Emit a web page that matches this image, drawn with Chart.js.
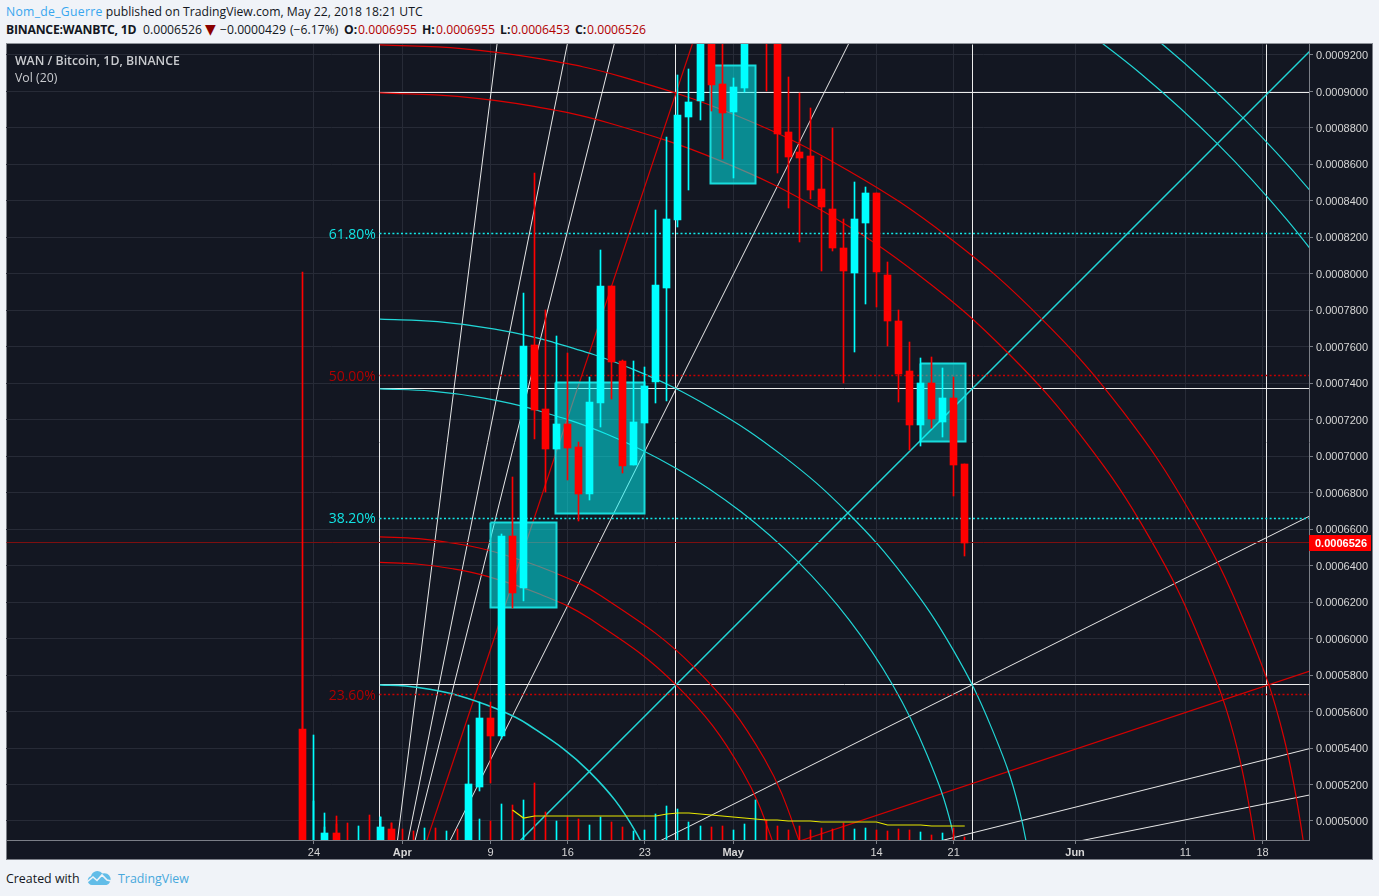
<!DOCTYPE html>
<html>
<head>
<meta charset="utf-8">
<title>WAN / Bitcoin, 1D, BINANCE</title>
<script src="https://cdn.jsdelivr.net/npm/chart.js@4/dist/chart.umd.min.js"></script>
<style>
  html, body { margin: 0; padding: 0; background: #f0f3f8; width: 1379px; height: 896px; overflow: hidden; }
  body { font: 12.2px "Open Sans", sans-serif; color: #131722; }
  .line { position: absolute; left: 6px; white-space: pre; }
  #line1 { top: 3px; }
  #line2 { top: 21px; }
  #line2 span, #line2 b { position: absolute; top: 0; }
  .user { color: #37a6ef; letter-spacing: 0.3px; }
  .val { color: #b00000; }
  .down { color: #8b0000; font-family: "DejaVu Sans", sans-serif; font-size: 14px; line-height: 17px; }
  #panel { position: absolute; left: 6px; top: 43px; width: 1365px; height: 815px; background: #131722; border: 1px solid #7b7f87; border-top-color: #8f939a; }
  #chart { position: absolute; left: -1px; top: 0; }
  .legend { position: absolute; left: 15px; color: #c9cbcf; white-space: pre; font-size: 12.3px; }
  #footer { position: absolute; left: 6px; top: 870px; white-space: pre; font-size: 12.4px; }
  #footer svg { position: absolute; left: 81px; top: 0; }
  #footer a { position: absolute; left: 112px; top: 0; color: #47a8dc; }
</style>
</head>
<body>
<div class="line" id="line1"><span class="user">Nom_de_Guerre</span> published on TradingView.com, May 22, 2018 18:21 UTC</div>
<div class="line" id="line2"><b style="left:0;letter-spacing:-0.22px">BINANCE:WANBTC, 1D</b><span style="left:137px">0.0006526</span><span class="down" style="left:199px">▼</span><span style="left:214px">−0.0000429</span><span style="left:284px">(−6.17%)</span><b style="left:338px">O:</b><span class="val" style="left:352px">0.0006955</span><b style="left:416px">H:</b><span class="val" style="left:430px">0.0006955</span><b style="left:494px">L:</b><span class="val" style="left:505px">0.0006453</span><b style="left:569px">C:</b><span class="val" style="left:581px">0.0006526</span></div>
<div id="panel"><canvas id="chart" width="1366" height="816"></canvas></div>
<div class="legend" style="top:52px;font-weight:600">WAN / Bitcoin, 1D, BINANCE</div>
<div class="legend" style="top:69px">Vol (20)</div>
<div id="footer">Created with<svg width="25" height="16" viewBox="0 0 25 16"><path d="M5 15a4.5 4.5 0 0 1-1-8.8A6.5 6.5 0 0 1 15.5 3.5 5.5 5.5 0 0 1 19.5 15z" fill="#62bde8"/><path d="M0 12l6-5 4 3.5L15 5l5 5 4 1" fill="none" stroke="#f0f3f8" stroke-width="1.6"/></svg><a>TradingView</a></div>

<script>
// ===== DATA: DAILY CANDLES (day 0 = 24 Mar 2018) =====
const candleDays = [-1, 0, 1, 2, 3, 4, 5, 6, 7, 8, 9, 10, 11, 12, 13, 14, 15, 16, 17, 18, 19, 20, 21, 22, 23, 24, 25, 26, 27, 28, 29, 30, 31, 32, 33, 34, 35, 36, 37, 38, 39, 40, 41, 42, 43, 44, 45, 46, 47, 48, 49, 50, 51, 52, 53, 54, 55, 56, 57, 58, 59];
const opens = [0.0005504, 0.0004600, 0.0004800, 0.0004934, 0.0004850, 0.0004830, 0.0004860, 0.0004820, 0.0004956, 0.0004850, 0.0004830, 0.0004810, 0.0004840, 0.0004800, 0.0004830, 0.0004860, 0.0005186, 0.0005565, 0.0005466, 0.0006563, 0.0006278, 0.0007610, 0.0007259, 0.0007040, 0.0007177, 0.0007051, 0.0006793, 0.0007292, 0.0007933, 0.0007522, 0.0006952, 0.0007182, 0.0007407, 0.0007922, 0.0008295, 0.0008860, 0.0008948, 0.0009500, 0.0009041, 0.0008887, 0.0009019, 0.0009450, 0.0009700, 0.0009400, 0.0008778, 0.0008668, 0.0008646, 0.0008465, 0.0008356, 0.0008142, 0.0008005, 0.0008279, 0.0008443, 0.0007994, 0.0007742, 0.0007467, 0.0007171, 0.0007402, 0.0007188, 0.0007319, 0.0006955];
const highs = [0.0008010, 0.0005472, 0.0005044, 0.0005027, 0.0004860, 0.0004870, 0.0004880, 0.0005022, 0.0004989, 0.0004880, 0.0004870, 0.0004860, 0.0004870, 0.0004850, 0.0004880, 0.0005526, 0.0005652, 0.0005652, 0.0006574, 0.0006886, 0.0007895, 0.0008553, 0.0007802, 0.0007659, 0.0007566, 0.0007078, 0.0007434, 0.0008131, 0.0007933, 0.0007528, 0.0007522, 0.0007489, 0.0008350, 0.0008750, 0.0009090, 0.0009123, 0.0009700, 0.0009800, 0.0009400, 0.0009074, 0.0009600, 0.0009900, 0.0010000, 0.0009500, 0.0009079, 0.0008992, 0.0008909, 0.0008641, 0.0008800, 0.0008301, 0.0008504, 0.0008476, 0.0008443, 0.0008065, 0.0007802, 0.0007626, 0.0007539, 0.0007544, 0.0007484, 0.0007434, 0.0006955];
const lows = [0.0004500, 0.0004500, 0.0004700, 0.0004700, 0.0004750, 0.0004790, 0.0004790, 0.0004800, 0.0004800, 0.0004790, 0.0004780, 0.0004770, 0.0004780, 0.0004770, 0.0004790, 0.0004840, 0.0005164, 0.0005208, 0.0005450, 0.0006168, 0.0006206, 0.0007095, 0.0006804, 0.0007040, 0.0006870, 0.0006645, 0.0006760, 0.0007160, 0.0007314, 0.0006908, 0.0006952, 0.0007182, 0.0007292, 0.0007303, 0.0008257, 0.0008460, 0.0008844, 0.0008893, 0.0008630, 0.0008526, 0.0008997, 0.0009300, 0.0009003, 0.0008553, 0.0008361, 0.0008175, 0.0008410, 0.0008016, 0.0008125, 0.0007402, 0.0007572, 0.0007835, 0.0007818, 0.0007604, 0.0007297, 0.0007034, 0.0007056, 0.0007155, 0.0007105, 0.0006782, 0.0006453];
const closes = [0.0004600, 0.0004750, 0.0004934, 0.0004800, 0.0004830, 0.0004860, 0.0004820, 0.0004967, 0.0004850, 0.0004830, 0.0004810, 0.0004840, 0.0004800, 0.0004830, 0.0004820, 0.0005203, 0.0005565, 0.0005466, 0.0006563, 0.0006250, 0.0007604, 0.0007254, 0.0007040, 0.0007177, 0.0007045, 0.0006793, 0.0007297, 0.0007933, 0.0007517, 0.0006946, 0.0007188, 0.0007385, 0.0007939, 0.0008301, 0.0008871, 0.0008942, 0.0009500, 0.0009035, 0.0008882, 0.0009025, 0.0009450, 0.0009800, 0.0009400, 0.0008767, 0.0008641, 0.0008635, 0.0008460, 0.0008367, 0.0008142, 0.0008016, 0.0008301, 0.0008443, 0.0008010, 0.0007742, 0.0007451, 0.0007171, 0.0007402, 0.0007204, 0.0007319, 0.0006952, 0.0006526];

// ===== DATA: VOLUME =====
const volumes = [1000, 195, 65, 80, 85, 70, 125, 115, 85, 55, 45, 60, 60, 45, 55, 200, 105, 95, 180, 175, 200, 285, 140, 95, 115, 105, 75, 115, 90, 65, 45, 50, 130, 170, 155, 90, 70, 65, 70, 50, 80, 200, 100, 70, 50, 70, 50, 60, 55, 85, 55, 60, 50, 45, 55, 50, 40, 25, 35, 60, 15];
const volumeMaDays = [18, 19, 20, 21, 22, 23, 24, 25, 26, 27, 28, 29, 30, 31, 32, 33, 34, 35, 36, 37, 38, 39, 40, 41, 42, 43, 44, 45, 46, 47, 48, 49, 50, 51, 52, 53, 54, 55, 56, 57, 58, 59];
const volumeMa = [150, 110, 120, 120, 120, 120, 120, 120, 120, 120, 120, 120, 120, 120, 130, 135, 135, 130, 125, 120, 115, 110, 105, 100, 100, 95, 95, 95, 90, 90, 90, 90, 90, 90, 75, 75, 75, 75, 70, 70, 70, 70];

// ===== DATA: AXES =====
const xTickDays = [0, 8, 16, 23, 30, 38, 51, 58, 69, 79, 86];
const xTickLabels = ["24", "Apr", "9", "16", "23", "May", "14", "21", "Jun", "11", "18"];
const monthLabels = ["Apr", "May", "Jun"];
const priceTicks = [0.0005, 0.00052, 0.00054, 0.00056, 0.00058, 0.0006, 0.00062, 0.00064, 0.00066, 0.00068, 0.0007, 0.00072, 0.00074, 0.00076, 0.00078, 0.0008, 0.00082, 0.00084, 0.00086, 0.00088, 0.0009, 0.00092];
const lastPrice = 0.0006526;

// ===== DATA: FIBONACCI LEVELS =====
const fibPrices = [0.0008221, 0.0007440, 0.0006659, 0.0005691];
const fibLabels = ["61.80%", "50.00%", "38.20%", "23.60%"];

// ===== DATA: GANN SQUARE =====
const gannDays = [5.98, 32.82, 59.66, 86.4];
const gannPrices = [0.0008992, 0.0007369, 0.0005746];
const fanOrigin = [5.98, 0.0004123];
const fanWhiteEnds = [[16.6, 0.000926], [22.97, 0.000926], [27.22, 0.000926], [48.46, 0.000926], [90.21, 0.000667], [90.21, 0.0005396], [90.21, 0.0005142]];
const fanRedEnds = [[34.3, 0.000926], [90.21, 0.0005821]];
const fanCyanEnd = [90.93, 0.000926];

const arcCyan1 = [[5.98, 0.0005746], [8.32, 0.000574], [10.64, 0.0005721], [12.93, 0.0005691], [16.25, 0.0005622], [19.4, 0.0005529], [24.96, 0.0005271], [29.22, 0.0004935], [31.9, 0.0004543]];
const arcCyan2 = [[5.98, 0.0007369], [10.66, 0.0007357], [15.3, 0.000732], [19.87, 0.0007258], [26.52, 0.0007122], [32.82, 0.0006934], [38.66, 0.0006698], [43.94, 0.0006418], [48.57, 0.0006099], [52.47, 0.0005746], [55.57, 0.0005365], [57.83, 0.0004963], [59.46, 0.0004406]];
const arcCyan3 = [[5.98, 0.0007752], [11.21, 0.0007738], [16.4, 0.0007697], [21.51, 0.0007628], [28.95, 0.0007476], [35.98, 0.0007266], [42.51, 0.0007002], [48.41, 0.0006689], [53.59, 0.0006332], [57.95, 0.0005938], [61.42, 0.0005512], [63.95, 0.0005062], [65.76, 0.0004439]];
const arcCyan4 = [[67.56, 0.0009441], [74.99, 0.0009096], [81.9, 0.0008714], [88.22, 0.0008296], [93.93, 0.0007847]];
const arcCyan5 = [[69.45, 0.0009605], [77.11, 0.0009249], [84.23, 0.0008855], [90.75, 0.0008425], [96.63, 0.0007962]];
const arcRed1 = [[5.98, 0.0006418], [9.29, 0.0006409], [12.57, 0.0006383], [15.8, 0.000634], [20.51, 0.0006243], [24.96, 0.0006111], [32.82, 0.0005746], [38.85, 0.0005271], [42.65, 0.0004717]];
const arcRed2 = [[5.98, 0.0006558], [9.49, 0.0006548], [12.97, 0.000652], [16.4, 0.0006475], [21.39, 0.0006372], [26.11, 0.0006231], [34.45, 0.0005844], [40.85, 0.000534], [44.87, 0.0004753]];
const arcRed3 = [[5.98, 0.0008992], [13, 0.0008973], [19.96, 0.0008918], [26.82, 0.0008826], [36.79, 0.0008621], [46.24, 0.000834], [55, 0.0007986], [62.92, 0.0007566], [69.86, 0.0007087], [75.71, 0.0006558], [80.37, 0.0005986], [83.76, 0.0005383], [86.19, 0.0004547]];
const arcRed4 = [[5.98, 0.0009255], [13.38, 0.0009235], [20.71, 0.0009177], [27.95, 0.000908], [38.46, 0.0008864], [48.42, 0.0008567], [57.65, 0.0008195], [65.99, 0.0007752], [73.32, 0.0007247], [79.48, 0.0006689], [84.39, 0.0006087], [87.96, 0.0005451], [90.53, 0.000457]];

// ===== DATA: PRICE RANGE BOXES (first day, last day, top, bottom) =====
const rangeBoxes = [
  [15.96, 22.03, 0.0006637, 0.0006171],
  [21.94, 30, 0.0007402, 0.0006684],
  [35.99, 40.07, 0.0009140, 0.0008493],
  [55, 59.1, 0.0007507, 0.0007080]
];

// ===== SETTINGS =====
const RED = "#ff0000";
const CYAN = "#00ffff";
const PRICE_MIN = 0.00048958;
const PRICE_MAX = 0.00092603;
const DAY_MIN = -27.92;
const DAY_MAX = 90.21;
const LABEL_FONT = '11px "Liberation Sans", Arial, sans-serif';

const candleColors = opens.map((o, i) => (closes[i] >= o ? CYAN : RED));

// ===== DATASET HELPERS =====
function toXY(pairs) {
  return pairs.map(p => ({ x: p[0], y: p[1] }));
}

function lineSet(pairs, color, width, order, extra) {
  return Object.assign({
    type: "line",
    data: toXY(pairs),
    borderColor: color,
    borderWidth: width,
    pointRadius: 0,
    tension: 0,
    fill: false,
    order: order
  }, extra || {});
}

function barSet(values, yAxisID, thickness, order) {
  return {
    type: "bar",
    data: candleDays.map((d, i) => ({ x: d, y: values[i] })),
    yAxisID: yAxisID,
    backgroundColor: candleColors,
    barThickness: thickness,
    grouped: false,
    order: order
  };
}

// ===== DATASETS =====
const datasets = [];

// yellow volume average on top of everything
datasets.push({
  type: "line",
  data: volumeMaDays.map((d, i) => ({ x: d, y: volumeMa[i] })),
  yAxisID: "yVol",
  borderColor: "#e8e800",
  borderWidth: 1.2,
  pointRadius: 0,
  tension: 0,
  order: 0
});

// candles, then wicks, then volume
datasets.push(barSet(opens.map((o, i) => [o, closes[i]]), "y", 7, 1));
datasets.push(barSet(lows.map((l, i) => [l, highs[i]]), "y", 1, 2));
datasets.push(barSet(volumes, "yVol", 1, 3));

// teal boxes sit under the candles but over the Gann drawing
rangeBoxes.forEach(b => {
  const corners = [[b[0], b[2]], [b[1], b[2]], [b[1], b[3]], [b[0], b[3]], [b[0], b[2]]];
  datasets.push(lineSet(corners, "#18dcdc", 2, 4, { fill: "shape", backgroundColor: "rgba(0,255,255,0.5)", snap: true }));
});

// fib dotted levels
fibPrices.forEach((p, i) => {
  const color = i % 2 === 0 ? "#12e8e8" : "#c80000";
  datasets.push(lineSet([[gannDays[0], p], [DAY_MAX, p]], color, 1.5, 5, { borderDash: [2, 2.3], snap: true }));
});

// last price line
datasets.push(lineSet([[DAY_MIN, lastPrice], [DAY_MAX, lastPrice]], "#7d0f10", 1, 5, { snap: true }));

// arcs
[arcCyan2, arcCyan3, arcCyan4, arcCyan5].forEach(a => {
  datasets.push(lineSet(a, "#21d6d6", 1.2, 6, { tension: 0.4 }));
});
datasets.push(lineSet(arcCyan1, "#21d6d6", 1.6, 6, { tension: 0.4 }));
[arcRed1, arcRed2, arcRed3, arcRed4].forEach(a => {
  datasets.push(lineSet(a, "#dc0000", 1.2, 6, { tension: 0.4 }));
});

// fan lines out of the square origin
fanWhiteEnds.forEach(e => datasets.push(lineSet([fanOrigin, e], "#e8e8e8", 1, 7)));
fanRedEnds.forEach(e => datasets.push(lineSet([fanOrigin, e], "#d40000", 1.2, 7)));
datasets.push(lineSet([fanOrigin, fanCyanEnd], "#21d6d6", 1.5, 7));

// square grid
gannDays.forEach(d => datasets.push(lineSet([[d, PRICE_MIN], [d, PRICE_MAX]], "#ececec", 1, 8, { snap: true })));
gannPrices.forEach(p => datasets.push(lineSet([[gannDays[0], p], [DAY_MAX, p]], "#ececec", 1, 8, { snap: true })));

// ===== PLUGINS =====
// snaps bars and straight rules on whole pixels, like the original
const crispMarks = {
  id: "crispMarks",
  beforeDatasetsDraw(chart) {
    chart.getSortedVisibleDatasetMetas().forEach(meta => {
      if (meta.type === "bar") {
        meta.data.forEach(el => {
          el.x = Math.floor(el.x) + 0.5;
          el.y = Math.round(el.y);
          el.base = Math.round(el.base);
        });
      } else if (chart.data.datasets[meta.index].snap) {
        meta.data.forEach(el => {
          el.x = Math.floor(el.x) + 0.5;
          el.y = Math.floor(el.y) + 0.5;
        });
      }
    });
  }
};

// fib captions and the red last price tag
const overlayText = {
  id: "overlayText",
  afterDraw(chart) {
    const { ctx, scales, chartArea } = chart;
    ctx.save();
    ctx.textBaseline = "middle";
    ctx.font = '14px "Open Sans", sans-serif';
    ctx.textAlign = "right";
    fibPrices.forEach((p, i) => {
      ctx.fillStyle = i % 2 === 0 ? "#12e4e4" : "#b00000";
      ctx.fillText(fibLabels[i], scales.x.getPixelForValue(gannDays[0]) - 4, scales.y.getPixelForValue(p) + 1);
    });
    const tagY = Math.round(scales.y.getPixelForValue(lastPrice));
    ctx.fillStyle = RED;
    ctx.fillRect(chartArea.right, tagY - 8, 62, 16);
    ctx.fillStyle = "#ffffff";
    ctx.textAlign = "left";
    ctx.font = "bold " + LABEL_FONT;
    ctx.fillText(lastPrice.toFixed(7), chartArea.right + 6, tagY + 1);
    ctx.restore();
  }
};

function noPadding(axis) {
  axis.paddingTop = 0;
  axis.paddingBottom = 0;
  axis.paddingLeft = 0;
  axis.paddingRight = 0;
}

// ===== CHART =====
new Chart(document.getElementById("chart"), {
  data: { datasets: datasets },
  plugins: [crispMarks, overlayText],
  options: {
    responsive: false,
    animation: false,
    events: [],
    layout: { padding: 0 },
    plugins: { legend: { display: false }, tooltip: { enabled: false } },
    scales: {
      x: {
        type: "linear",
        offset: false,
        min: DAY_MIN,
        max: DAY_MAX,
        afterBuildTicks(axis) { axis.ticks = xTickDays.map(v => ({ value: v })); },
        afterFit(axis) { axis.height = 20; noPadding(axis); },
        grid: { offset: false, color: "#272b37", lineWidth: 1, tickColor: "#7b7f87", tickLength: 4 },
        border: { color: "#7b7f87" },
        ticks: {
          autoSkip: false,
          maxRotation: 0,
          padding: 2,
          color: "#d6d6d6",
          callback: (v, i) => xTickLabels[i],
          font: c => ({
            family: '"Liberation Sans", Arial, sans-serif',
            size: 11,
            weight: c.tick && monthLabels.includes(c.tick.label) ? "bold" : "normal"
          })
        }
      },
      y: {
        type: "linear",
        position: "right",
        min: PRICE_MIN,
        max: PRICE_MAX,
        afterBuildTicks(axis) { axis.ticks = priceTicks.map(v => ({ value: v })); },
        afterFit(axis) { axis.width = 63; noPadding(axis); },
        grid: { color: "#272b37", lineWidth: 1, tickColor: "#7b7f87", tickLength: 4 },
        border: { color: "#7b7f87" },
        ticks: {
          padding: 3,
          labelOffset: 1,
          color: "#d6d6d6",
          callback: v => v.toFixed(7),
          font: { family: '"Liberation Sans", Arial, sans-serif', size: 11 }
        }
      },
      yVol: {
        type: "linear",
        display: false,
        min: 0,
        max: 3980
      }
    }
  }
});
</script>
</body>
</html>
